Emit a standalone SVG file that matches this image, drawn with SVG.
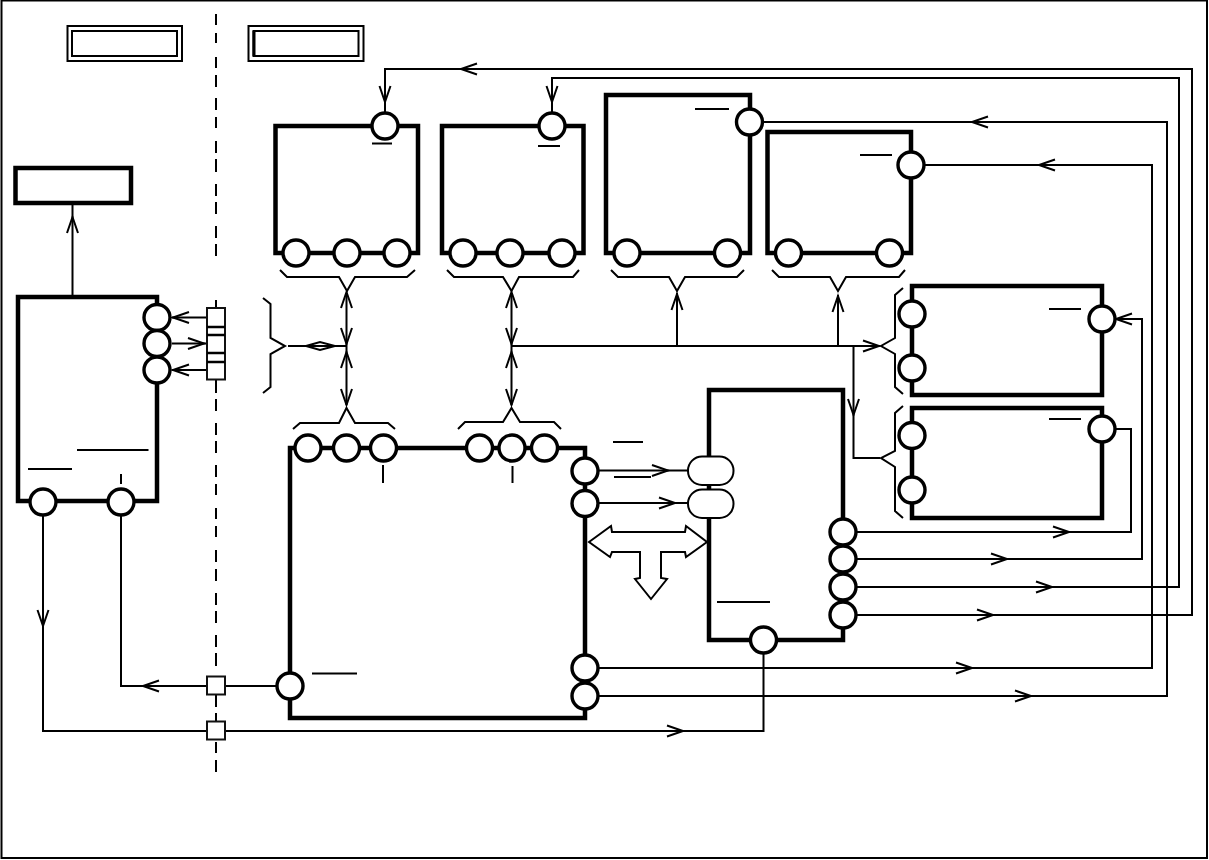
<svg xmlns="http://www.w3.org/2000/svg" width="1209" height="860" viewBox="0 0 1209 860">
<style>
.box{fill:none;stroke:#000;stroke-width:4.500;stroke-linecap:square}
.port{fill:#fff;stroke:#000;stroke-width:3.400}
.line{fill:none;stroke:#000;stroke-width:2}
.mark{fill:none;stroke:#000;stroke-width:2}
.thin{fill:#fff;stroke:#000;stroke-width:2}
.square{fill:#fff;stroke:#111;stroke-width:2}
</style>
<defs>
<path id="ah" d="M-16,-5.500L0,0L-16,5.500" fill="none" stroke="#000" stroke-width="2"/>
</defs>
<rect width="1209" height="860" fill="#fff"/>
<rect x="1.500" y="0.500" width="1205.500" height="857.500" fill="none" stroke="#000" stroke-width="2"/>
<g id="legend-left">
<rect x="67.500" y="26" width="114.500" height="35" class="thin"/>
<rect x="72" y="31" width="105" height="25" class="thin"/>
</g>
<g id="legend-right">
<rect x="248.500" y="26" width="115" height="35" class="thin"/>
<rect x="253.500" y="31" width="105" height="25" class="thin"/>
<path d="M254,31V56" class="line" style="stroke-width:3"/>
</g>
<g id="boundary">
<path d="M216,14V25M216,33V43M216,57V68M216,75V87M216,98V110M216,117V128M216,141V153M216,159V172M216,184V196M216,202V214M216,226V238M216,244V256M216,300V308M216,380V393M216,399V411M216,423V435M216,441V453M216,465V477M216,484V495M216,508V519M216,526V537M216,550V562M216,569V581M216,593V605M216,611V623M216,635V647M216,653V666M216,695V707M216,713V721M216,742V753M216,760V772" class="line"/>
</g>
<g id="connectors">
<path d="M72.500,203V297" class="line"/><use href="#ah" transform="translate(72.500,217) rotate(-90)"/>
<path d="M385,113V69H1192V615H857" class="line"/><use href="#ah" transform="translate(385,102) rotate(90)"/><use href="#ah" transform="translate(461,69) rotate(180)"/><use href="#ah" transform="translate(993,615)"/>
<path d="M552,113V78H1179V587H857" class="line"/><use href="#ah" transform="translate(552,102) rotate(90)"/><use href="#ah" transform="translate(1052,587)"/>
<path d="M763,122H1167V696H598" class="line"/><use href="#ah" transform="translate(972,122) rotate(180)"/><use href="#ah" transform="translate(1031,696)"/>
<path d="M924,165H1152V668H598" class="line"/><use href="#ah" transform="translate(1039,165) rotate(180)"/><use href="#ah" transform="translate(972,668)"/>
<path d="M1116,319H1142V559H857" class="line"/><use href="#ah" transform="translate(1116,319) rotate(180)"/><use href="#ah" transform="translate(1007,559)"/>
<path d="M1116,429H1131V532H857" class="line"/><use href="#ah" transform="translate(1069,532)"/>
<path d="M346.500,293V405M511.500,293V405" class="line"/>
<use href="#ah" transform="translate(346.500,292) rotate(-90)"/><use href="#ah" transform="translate(346.500,344) rotate(90)"/><use href="#ah" transform="translate(346.500,352) rotate(-90)"/><use href="#ah" transform="translate(346.500,405) rotate(90)"/>
<use href="#ah" transform="translate(511.500,292) rotate(-90)"/><use href="#ah" transform="translate(511.500,344) rotate(90)"/><use href="#ah" transform="translate(511.500,352) rotate(-90)"/><use href="#ah" transform="translate(511.500,405) rotate(90)"/>
<path d="M511.500,346H880M677,346V293M838,346V295M853.500,346V458H880" class="line"/>
<use href="#ah" transform="translate(677,294) rotate(-90)"/><use href="#ah" transform="translate(838,296) rotate(-90)"/><use href="#ah" transform="translate(879,346)"/><use href="#ah" transform="translate(853.500,415) rotate(90)"/>
<path d="M288,346H346.500" class="line"/><path d="M306,346L320,342L335,346L320,350Z" class="line"/>
<path d="M280,270L287,277H339L347,291L355,277H407L415,270" class="line"/>
<path d="M447,270L454,277H503L511.500,291L519,277H573L579,270" class="line"/>
<path d="M611,270L618,277H669L677,291L685,277H737L744,270" class="line"/>
<path d="M772,270L779,277H830L838,291L846,277H899L905,270" class="line"/>
<path d="M293,429L300,423H339L346.500,408L355,423H388L395,429" class="line"/>
<path d="M458,429L465,422H503L511.500,408L520,422H554L561,429" class="line"/>
<path d="M263,298L270.500,304V338L285,346L270.500,354V387L263,393" class="line"/>
<path d="M903,288L895,295V338L881,346L895,354V387L903,394" class="line"/>
<path d="M903,406L895,413V451L881,458L895,467V511L903,518" class="line"/>
<path d="M172,317.500H207M172,343.500H207M172,370H207" class="line"/>
<use href="#ah" transform="translate(173,317.500) rotate(180)"/><use href="#ah" transform="translate(204,343.500)"/><use href="#ah" transform="translate(173,370) rotate(180)"/>
<path d="M598,470.500H688M598,503H688" class="line"/><use href="#ah" transform="translate(668,470.500)"/><use href="#ah" transform="translate(675,503)"/>
<path d="M121,515V686H207M225,686H277" class="line"/><use href="#ah" transform="translate(143,686) rotate(180)"/>
<path d="M43,515V731H207M225,731H763.500V653" class="line"/><use href="#ah" transform="translate(43,626) rotate(90)"/><use href="#ah" transform="translate(683,731)"/>
<path d="M589,542L611,526L612,532H685L686,526L707,542L686,557L685,552H661V578L667,579L651,599L635,579L640,578V552H612L610,557Z" class="thin"/>
</g>
<g id="node-terminals">
<rect x="207" y="308" width="18" height="71.500" class="square"/>
<path d="M207,327H225M207,335H225M207,353H225M207,362H225" class="line" style="stroke-width:2.500"/>
<rect x="207" y="676.500" width="18" height="18" class="square"/>
<rect x="207" y="721.500" width="18" height="18" class="square"/>
</g>
<g id="node-top-left"><rect x="15.500" y="168" width="115.500" height="35" class="box"/></g>
<g id="node-a">
<path d="M275.500,253V126H418V253H275.500" class="box"/>
<path d="M372,143.500H392" class="mark"/>
<circle cx="385" cy="126" r="13" class="port"/><circle cx="296" cy="253" r="13" class="port"/><circle cx="347" cy="253" r="13" class="port"/><circle cx="397" cy="253" r="13" class="port"/>
</g>
<g id="node-b">
<path d="M442,253V126H583.500V253H442" class="box"/>
<path d="M538,146H560" class="mark"/>
<circle cx="552" cy="126" r="13" class="port"/><circle cx="463" cy="253" r="13" class="port"/><circle cx="510" cy="253" r="13" class="port"/><circle cx="562" cy="253" r="13" class="port"/>
</g>
<g id="node-c">
<rect x="606" y="95" width="144" height="158" class="box"/>
<path d="M695,109H729" class="mark"/>
<circle cx="749.500" cy="122" r="13" class="port"/><circle cx="627" cy="253" r="13" class="port"/><circle cx="727.500" cy="253" r="13" class="port"/>
</g>
<g id="node-d">
<rect x="767.500" y="132" width="143.500" height="121" class="box"/>
<path d="M860,155H892" class="mark"/>
<circle cx="911" cy="165" r="13" class="port"/><circle cx="788.500" cy="253" r="13" class="port"/><circle cx="889.500" cy="253" r="13" class="port"/>
</g>
<g id="node-e">
<rect x="912" y="286" width="190" height="109" class="box"/>
<path d="M1049,309H1081" class="mark"/>
<circle cx="912" cy="314" r="13" class="port"/><circle cx="912" cy="368" r="13" class="port"/><circle cx="1102" cy="319" r="13" class="port"/>
</g>
<g id="node-f">
<rect x="912" y="408" width="190" height="110" class="box"/>
<path d="M1049,419H1081" class="mark"/>
<circle cx="912" cy="435.500" r="13" class="port"/><circle cx="912" cy="490" r="13" class="port"/><circle cx="1102" cy="429" r="13" class="port"/>
</g>
<g id="node-g">
<rect x="709" y="390" width="134" height="250" class="box"/>
<path d="M717,602H770" class="mark"/>
<rect x="688" y="456.500" width="45.500" height="28.500" rx="14" class="thin"/>
<rect x="688" y="489.500" width="45.500" height="28.500" rx="14" class="thin"/>
<circle cx="843" cy="532" r="13" class="port"/><circle cx="843" cy="559" r="13" class="port"/><circle cx="843" cy="587" r="13" class="port"/><circle cx="843" cy="615" r="13" class="port"/><circle cx="763.500" cy="640" r="13" class="port"/>
</g>
<g id="node-h">
<rect x="290" y="448" width="295" height="270" class="box"/>
<path d="M383,465V483M512.500,466V483M613,442H643M614,477H651M312,673.500H357" class="mark"/>
<circle cx="308" cy="448" r="13" class="port"/><circle cx="346.500" cy="448" r="13" class="port"/><circle cx="383.500" cy="448" r="13" class="port"/><circle cx="479.500" cy="448" r="13" class="port"/><circle cx="512" cy="448" r="13" class="port"/><circle cx="544.500" cy="448" r="13" class="port"/><circle cx="585" cy="471" r="13" class="port"/><circle cx="585" cy="503.500" r="13" class="port"/><circle cx="585" cy="668" r="13" class="port"/><circle cx="585" cy="696" r="13" class="port"/><circle cx="290" cy="686" r="13" class="port"/>
</g>
<g id="node-i">
<rect x="18" y="297" width="139" height="204" class="box"/>
<path d="M77,450H148.500M28,469H72M121,474V484" class="mark"/>
<circle cx="157" cy="317.500" r="13" class="port"/><circle cx="157" cy="343.500" r="13" class="port"/><circle cx="157" cy="370" r="13" class="port"/><circle cx="43" cy="502" r="13" class="port"/><circle cx="121" cy="502" r="13" class="port"/>
</g>
</svg>
